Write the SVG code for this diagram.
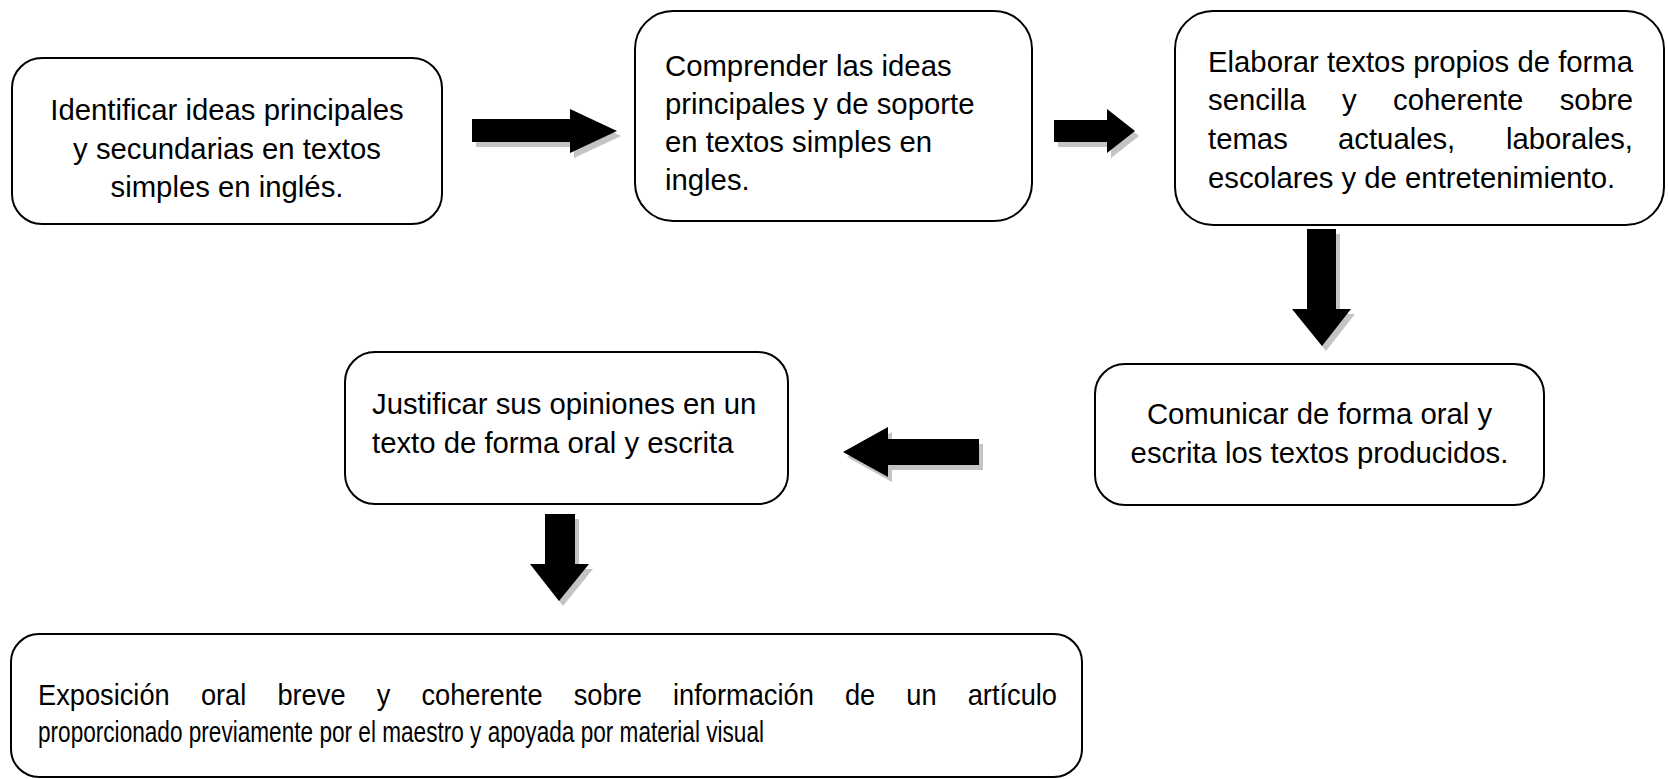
<svg xmlns="http://www.w3.org/2000/svg" xmlns:xlink="http://www.w3.org/1999/xlink" width="1668" height="779" viewBox="0 0 1668 779">
<style>
.box{fill:#fff;stroke:#000;stroke-width:2}
.t{font-family:"Liberation Sans",Arial,sans-serif;font-size:29.3px;fill:#000}
.sh{fill:#c4c4c4}
.ar{fill:#000}
</style>
<defs>
<polygon id="a1" points="472,119 570,119 570,109 617,131 570,153 570,142 472,142"/>
<polygon id="a2" points="1054,120 1107,120 1107,109 1135,131 1107,153 1107,142 1054,142"/>
<polygon id="a3" points="1307,229 1336,229 1336,309 1351,309 1322,346 1292,309 1307,309"/>
<polygon id="a4" points="979,439 888,439 888,427 843,452 888,477 888,465 979,465"/>
<polygon id="a5" points="545,514 575,514 575,564 589,564 559,601 530,564 545,564"/>
</defs>
<rect width="1668" height="779" fill="#fff"/>
<g id="connectors">
<use xlink:href="#a1" class="sh" transform="translate(4,5)"/><use xlink:href="#a1" class="ar"/>
<use xlink:href="#a2" class="sh" transform="translate(4,5)"/><use xlink:href="#a2" class="ar"/>
<use xlink:href="#a3" class="sh" transform="translate(4,5)"/><use xlink:href="#a3" class="ar"/>
<use xlink:href="#a4" class="sh" transform="translate(4,5)"/><use xlink:href="#a4" class="ar"/>
<use xlink:href="#a5" class="sh" transform="translate(4,5)"/><use xlink:href="#a5" class="ar"/>
</g>
<g id="n1">
<rect class="box" x="12" y="58" width="430" height="166" rx="30"/>
<text class="t" text-anchor="middle"><tspan x="227" y="120">Identificar ideas principales</tspan><tspan x="227" y="158.5">y secundarias en textos</tspan><tspan x="227" y="197">simples en inglés.</tspan></text>
</g>
<g id="n2">
<rect class="box" x="635" y="11" width="397" height="210" rx="38"/>
<text class="t"><tspan x="665" y="76">Comprender las ideas</tspan><tspan x="665" y="114">principales y de soporte</tspan><tspan x="665" y="152">en textos simples en</tspan><tspan x="665" y="190">ingles.</tspan></text>
</g>
<g id="n3">
<rect class="box" x="1175" y="11" width="489" height="214" rx="38"/>
<text class="t"><tspan x="1208" y="72">Elaborar textos propios de forma</tspan></text>
<text class="t"><tspan x="1208" y="110">sencilla</tspan><tspan x="1342" y="110">y</tspan><tspan x="1393" y="110">coherente</tspan></text>
<text class="t" x="1633" y="110" text-anchor="end">sobre</text>
<text class="t"><tspan x="1208" y="149">temas</tspan><tspan x="1338" y="149">actuales,</tspan></text>
<text class="t" x="1633" y="149" text-anchor="end">laborales,</text>
<text class="t" x="1208" y="187.5">escolares y de entretenimiento.</text>
</g>
<g id="n4">
<rect class="box" x="1095" y="364" width="449" height="141" rx="30"/>
<text class="t" text-anchor="middle"><tspan x="1319.5" y="424">Comunicar de forma oral y</tspan><tspan x="1319.5" y="463">escrita los textos producidos.</tspan></text>
</g>
<g id="n5">
<rect class="box" x="345" y="352" width="443" height="152" rx="30"/>
<text class="t"><tspan x="372" y="414">Justificar sus opiniones en un</tspan><tspan x="372" y="453">texto de forma oral y escrita</tspan></text>
</g>
<g id="n6">
<rect class="box" x="11" y="634" width="1071" height="143" rx="28"/>
<text class="t" transform="translate(38,705) scale(0.93,1)">Exposición</text>
<text class="t" transform="translate(200.9,705) scale(0.93,1)">oral</text>
<text class="t" transform="translate(277.4,705) scale(0.93,1)">breve</text>
<text class="t" transform="translate(376.7,705) scale(0.93,1)">y</text>
<text class="t" transform="translate(421.4,705) scale(0.93,1)">coherente</text>
<text class="t" transform="translate(573.7,705) scale(0.93,1)">sobre</text>
<text class="t" transform="translate(673,705) scale(0.93,1)">información</text>
<text class="t" transform="translate(844.9,705) scale(0.93,1)">de</text>
<text class="t" transform="translate(906.3,705) scale(0.93,1)">un</text>
<text class="t" transform="translate(967.7,705) scale(0.93,1)">artículo</text>
<text class="t" x="38" y="742" textLength="726" lengthAdjust="spacingAndGlyphs">proporcionado previamente por el maestro y apoyada por material visual</text>
</g>
</svg>
